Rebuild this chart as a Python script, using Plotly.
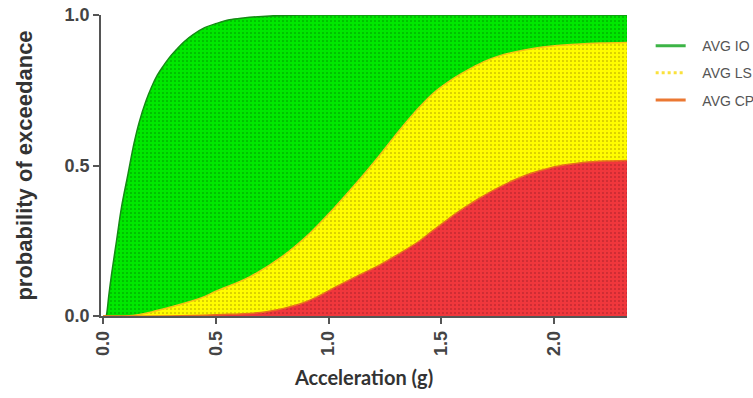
import plotly.graph_objects as go

# Data
io_x = [0.0, 0.012, 0.015, 0.025, 0.037, 0.059, 0.081, 0.11, 0.137, 0.16, 0.19, 0.214, 0.24, 0.266,
        0.295, 0.325, 0.36, 0.399, 0.45, 0.503, 0.56, 0.621, 0.74, 0.9, 1.2, 1.8, 2.325]
io_y = [0.0, 0.0, 0.006, 0.07, 0.139, 0.25, 0.361, 0.472, 0.575, 0.645, 0.715, 0.76, 0.80, 0.83,
        0.86, 0.885, 0.912, 0.935, 0.958, 0.972, 0.984, 0.99, 0.997, 1.0, 1.0, 1.0, 1.0]

ls_x = [0.0, 0.10, 0.162, 0.30, 0.428, 0.503, 0.65, 0.798, 0.917, 1.02, 1.139, 1.228, 1.316, 1.405,
        1.465, 1.54, 1.613, 1.69, 1.761, 1.87, 1.983, 2.1, 2.205, 2.325]
ls_y = [0.0, 0.0, 0.005, 0.03, 0.058, 0.083, 0.13, 0.20, 0.275, 0.355, 0.455, 0.535, 0.618, 0.695,
        0.74, 0.782, 0.815, 0.845, 0.865, 0.884, 0.896, 0.903, 0.907, 0.909]

cp_x = [0.0, 0.30, 0.50, 0.725, 0.873, 0.95, 1.02, 1.12, 1.228, 1.32, 1.405, 1.46, 1.524, 1.6, 1.672,
        1.75, 1.835, 1.9, 1.983, 2.06, 2.13, 2.23, 2.325]
cp_y = [0.0, 0.0, 0.004, 0.014, 0.04, 0.064, 0.092, 0.13, 0.17, 0.21, 0.25, 0.282, 0.318, 0.358, 0.392,
        0.425, 0.455, 0.474, 0.492, 0.503, 0.51, 0.515, 0.517]

names = ["AVG IO", "AVG LS", "AVG CP"]
x_ticks = [0.0, 0.5, 1.0, 1.5, 2.0]
y_ticks = [0.0, 0.5, 1.0]

fill_cols = ["rgb(0,232,0)", "rgb(255,252,0)", "rgb(240,55,60)"]
dot_cols = ["rgb(0,140,0)", "rgb(170,150,0)", "rgb(160,30,40)"]
edge_cols = ["rgb(20,140,20)", "rgb(245,195,20)", "rgb(232,110,30)"]
legend_cols = ["rgb(60,180,70)", "rgb(250,225,60)", "rgb(235,120,50)"]

fig = go.Figure()
for xs, ys, fc, dc, ec in zip([io_x, ls_x, cp_x], [io_y, ls_y, cp_y], fill_cols, dot_cols, edge_cols):
    fig.add_trace(go.Scatter(
        x=xs, y=ys, mode="lines", fill="tozeroy",
        line=dict(color=ec, width=1.5, shape="spline", smoothing=1.0),
        fillcolor=fc,
        fillpattern=dict(shape=".", size=4, solidity=0.12, fgcolor=dc, bgcolor=fc, fillmode="replace"),
        showlegend=False, hoverinfo="skip",
    ))

NB = "\u00a0\u00a0\u00a0"
for i, (nm, lc) in enumerate(zip(names, legend_cols)):
    fig.add_trace(go.Scatter(
        x=[None], y=[None], mode="lines", name=NB + nm,
        line=dict(color=lc, width=3, dash="dot" if i == 1 else "solid"),
        legendgroup=nm,
    ))

tick_font = dict(family="Liberation Sans", size=18, color="#444", weight="bold")

fig.update_layout(
    width=753, height=398,
    margin=dict(l=101, r=126, t=15, b=82, autoexpand=False),
    plot_bgcolor="white", paper_bgcolor="white",
    xaxis=dict(
        range=[-0.01, 2.325], tickvals=x_ticks, ticktext=[f"{v:.1f}" for v in x_ticks],
        tickangle=-90, showgrid=False, zeroline=False,
        showline=True, linecolor="#555", linewidth=1.5,
        ticks="outside", ticklen=6, tickcolor="#555", tickwidth=1.5,
        tickfont=tick_font,
        title=dict(text="Acceleration (g)", font=dict(family="Lato", size=20, color="#333", weight="bold"),
                   standoff=16),
    ),
    yaxis=dict(
        range=[0, 1.0], tickvals=y_ticks, ticktext=[f"{v:.1f}" for v in y_ticks],
        showgrid=False, zeroline=False,
        showline=True, linecolor="#555", linewidth=1.5,
        ticks="outside", ticklen=6, tickcolor="#555", tickwidth=1.5,
        tickfont=tick_font,
        title=dict(text="probability of exceedance", font=dict(family="Liberation Sans", size=22, color="#333", weight="bold"),
                   standoff=26),
    ),
    legend=dict(
        x=1.045, y=0.95, xanchor="left", yanchor="top",
        font=dict(family="Liberation Sans", size=14, color="#555"),
        tracegroupgap=6, traceorder="grouped", itemwidth=30,
        bgcolor="rgba(0,0,0,0)",
    ),
)

fig.write_html("out.html")
